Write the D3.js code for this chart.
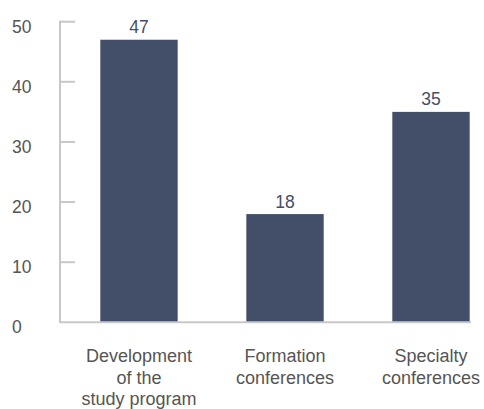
<!DOCTYPE html>
<html>
<head>
<meta charset="utf-8">
<script src="https://cdn.jsdelivr.net/npm/d3@7"></script>
<style>
  html, body { margin: 0; padding: 0; background: #fff; }
  svg { display: block; font-family: "Liberation Sans", Arial, Helvetica, sans-serif; }
</style>
</head>
<body>
<svg id="chart" width="484" height="409"></svg>
<script>
// Survey counts by activity type
const categories = [
  ["Development", "of the", "study program"],
  ["Formation", "conferences"],
  ["Specialty", "conferences"]
];
const values = [47, 18, 35];
const yTicks = [0, 10, 20, 30, 40, 50];

const svg = d3.select("#chart");
const barColor = "#434e68";
const axisColor = "#c8c8c8";
const textColor = "#555555";

const x = d3.scaleBand()
  .domain(d3.range(categories.length))
  .range([66, 504])
  .paddingInner(0.47)
  .paddingOuter(0.235);

const y = d3.scaleLinear()
  .domain([0, 50])
  .range([322.3, 21.7]);

// Y axis: vertical line with short tick marks pointing right
svg.append("line")
  .attr("x1", 60).attr("x2", 60)
  .attr("y1", y(50) - 1).attr("y2", y(0))
  .attr("stroke", axisColor).attr("stroke-width", 2);

svg.selectAll("line.tick")
  .data(yTicks.filter(d => d > 0))
  .join("line")
  .attr("class", "tick")
  .attr("x1", 60).attr("x2", 75)
  .attr("y1", d => y(d)).attr("y2", d => y(d))
  .attr("stroke", axisColor).attr("stroke-width", 2);

svg.selectAll("text.ytick")
  .data(yTicks)
  .join("text")
  .attr("class", "ytick")
  .attr("x", 12)
  .attr("y", d => y(d) + 11)
  .attr("fill", textColor)
  .attr("font-size", 17.5)
  .text(d => d);

// Bars
svg.selectAll("rect.bar")
  .data(values)
  .join("rect")
  .attr("class", "bar")
  .attr("x", (d, i) => x(i))
  .attr("y", d => y(d))
  .attr("width", x.bandwidth())
  .attr("height", d => y(0) - y(d))
  .attr("fill", barColor);

// X axis baseline
svg.append("line")
  .attr("x1", 59).attr("x2", 471)
  .attr("y1", y(0)).attr("y2", y(0))
  .attr("stroke", axisColor).attr("stroke-width", 2);

// Value labels above bars
svg.selectAll("text.value")
  .data(values)
  .join("text")
  .attr("class", "value")
  .attr("x", (d, i) => x(i) + x.bandwidth() / 2)
  .attr("y", d => y(d) - 6.5)
  .attr("text-anchor", "middle")
  .attr("fill", barColor)
  .attr("font-size", 17.5)
  .text(d => d);

// Category labels, multi-line
const cat = svg.selectAll("text.cat")
  .data(categories)
  .join("text")
  .attr("class", "cat")
  .attr("text-anchor", "middle")
  .attr("fill", textColor)
  .attr("font-size", 18);

cat.selectAll("tspan")
  .data((d, i) => d.map(line => ({ line, i })))
  .join("tspan")
  .attr("x", d => x(d.i) + x.bandwidth() / 2)
  .attr("y", (d, j) => 362 + j * 21.5)
  .text(d => d.line);
</script>
</body>
</html>
